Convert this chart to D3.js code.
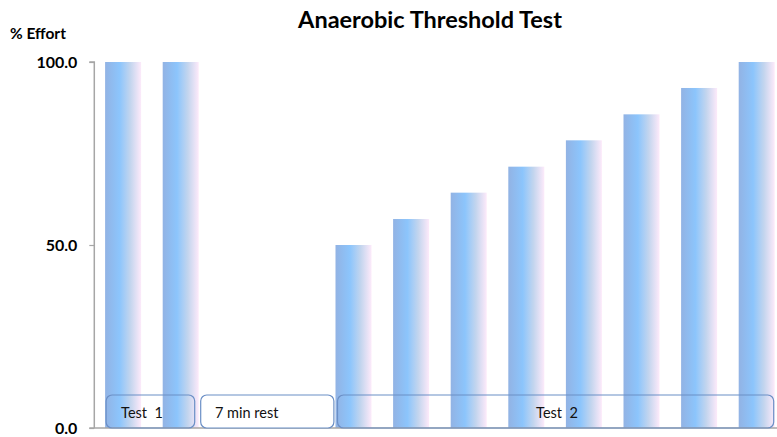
<!DOCTYPE html>
<html>
<head>
<meta charset="utf-8">
<script src="https://cdn.jsdelivr.net/npm/d3@7"></script>
<style>
  html, body { margin: 0; padding: 0; background: #fff; }
  svg { display: block; }
</style>
</head>
<body>
<svg id="chart" width="777" height="437"></svg>
<script>
// ---- data ----
const categories = ["1", "2", "3", "4", "5", "6", "7", "8", "9", "10", "11", "12"];
const effort = [100, 100, 0, 0, 50, 57.1, 64.3, 71.4, 78.6, 85.7, 92.9, 100];
const yTicks = [0, 50, 100];
const phaseLabels = ["Test  1", "7 min rest", "Test  2"];
const titleText = "Anaerobic Threshold Test";
const yAxisTitle = "% Effort";

// ---- layout ----
const W = 777, H = 437;
const left = 94.3, step = 57.6;
const svg = d3.select("#chart");
const font = "Lato, 'Open Sans', sans-serif";

const x = d3.scaleBand()
  .domain(categories)
  .range([left, left + step * categories.length])
  .paddingInner(0.375)
  .paddingOuter(0.1875);
const y = d3.scaleLinear().domain([0, 100]).range([428, 62]);

// gradient
const defs = svg.append("defs");
const grad = defs.append("linearGradient").attr("id", "barGrad")
  .attr("x1", "0%").attr("x2", "100%").attr("y1", "0%").attr("y2", "0%");
[["0%", "#92b3e4"], ["40%", "#8cc5fc"], ["70%", "#c3d5ee"], ["100%", "#fdeafa"]]
  .forEach(([o, c]) => grad.append("stop").attr("offset", o).attr("stop-color", c));

// title
svg.append("text")
  .attr("x", 430).attr("y", 28)
  .attr("text-anchor", "middle")
  .attr("font-family", font).attr("font-weight", "bold").attr("font-size", 23.5)
  .attr("fill", "#000")
  .text(titleText);

svg.append("text")
  .attr("x", 10).attr("y", 39)
  .attr("font-family", font).attr("font-weight", "bold").attr("font-size", 15.5)
  .attr("fill", "#000")
  .text(yAxisTitle);

// bars
svg.append("g").selectAll("rect")
  .data(effort)
  .join("rect")
  .attr("x", (d, i) => x(categories[i]))
  .attr("width", x.bandwidth())
  .attr("y", d => y(d))
  .attr("height", d => y(0) - y(d))
  .attr("fill", "url(#barGrad)");

// y axis
const yAxis = d3.axisLeft(y)
  .tickValues(yTicks)
  .tickFormat(d3.format(".1f"))
  .tickSize(5)
  .tickPadding(12);
const yg = svg.append("g").attr("transform", `translate(${left},0)`).call(yAxis);
yg.select(".domain").attr("stroke", "#a6a6a6").attr("stroke-width", 1.5)
  .attr("d", `M-5,${y(100)}H0V${y(0)}`);
yg.selectAll(".tick line").attr("stroke", "#a6a6a6").attr("stroke-width", 1.2);
yg.selectAll(".tick text")
  .attr("font-family", font).attr("font-weight", "bold").attr("font-size", 16)
  .attr("fill", "#000");

// x axis line
svg.append("line")
  .attr("x1", left - 5).attr("x2", W)
  .attr("y1", y(0)).attr("y2", y(0))
  .attr("stroke", "#a6a6a6").attr("stroke-width", 1.5);

// phase boxes
const boxX0 = [x(categories[0]) + 1, x(categories[1]) + x.bandwidth() + 2, x(categories[4]) + 2];
const boxX1 = [x(categories[1]) + x.bandwidth() - 4, x(categories[3]) + x.bandwidth() + 20, x(categories[11]) + x.bandwidth() - 1];
const boxFill = ["none", "#ffffff", "none"];
const labelX = [142, 215, 557];
const labelAnchor = ["middle", "start", "middle"];

const pg = svg.append("g");
phaseLabels.forEach((lab, i) => {
  pg.append("rect")
    .attr("x", boxX0[i]).attr("y", 395)
    .attr("width", boxX1[i] - boxX0[i]).attr("height", y(0) - 395)
    .attr("rx", 6).attr("ry", 6)
    .attr("fill", boxFill[i])
    .attr("stroke", "#6b8fc6").attr("stroke-width", 1.2);
  pg.append("text")
    .attr("x", labelX[i]).attr("y", 418)
    .attr("text-anchor", labelAnchor[i])
    .attr("font-family", font).attr("font-size", 14.5)
    .attr("fill", "#111")
    .style("white-space", "pre")
    .text(lab);
});
</script>
</body>
</html>
